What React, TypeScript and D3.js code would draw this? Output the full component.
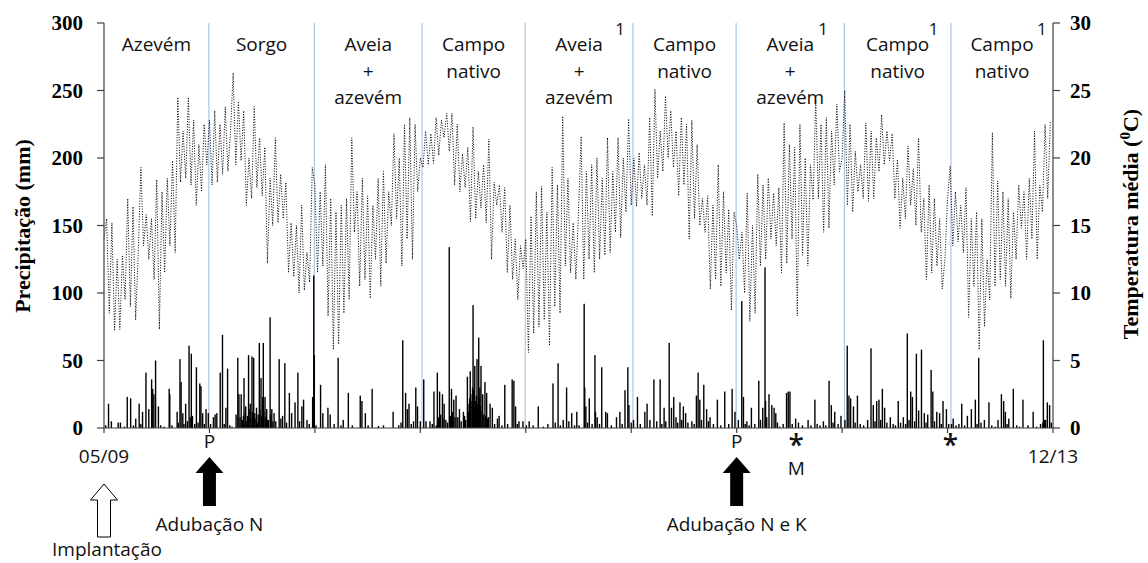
import React from 'react';
import * as d3 from 'd3';

const W = 1148;
const H = 563;

// x axis: day index since 05/2009 (9 half-year spans)
const totalDays = 1674;
const tickDays = [0, 186, 372, 558, 744, 930, 1116, 1302, 1488, 1674];
const tickLabels: Record<number, string> = { 0: '05/09', 1674: '12/13' };

const precTicks = [0, 50, 100, 150, 200, 250, 300];
const tempTicks = [0, 5, 10, 15, 20, 25, 30];

// seasons
const seasonBounds = [0, 185, 371, 561, 743, 933, 1115, 1306, 1494, 1674];
const seasonNames = [
  ['Azevém'],
  ['Sorgo'],
  ['Aveia', '+', 'azevém'],
  ['Campo', 'nativo'],
  ['Aveia', '+', 'azevém'],
  ['Campo', 'nativo'],
  ['Aveia', '+', 'azevém'],
  ['Campo', 'nativo'],
  ['Campo', 'nativo'],
];
const seasonNote = ['', '', '', '', '1', '', '1', '1', '1'];
const noteDx = [0, 0, 0, 0, 41, 0, 33, 36, 40];

// mean temperature (°C), one list per half-year block, evenly spaced in time
const tempSeg1 = [14, 15.5, 8.5, 15.2, 7.2, 12.5, 7.3, 12.8, 9.5, 17, 9, 16.4, 8, 13, 19.3, 13.5, 15.8, 12.5, 15.5, 11, 18.4, 7.3, 17.5, 11.5, 18.5, 13.5, 19.8, 13, 24.5, 18.2, 22, 18.5, 24.5, 18, 22.8, 16.5, 21, 17.5, 22.5, 19.5];
const tempSeg2 = [22.8, 18, 23.5, 18.2, 22.5, 18.8, 23.8, 19, 22, 26.3, 19.5, 24.2, 19.8, 23.5, 16.5, 20, 17, 23.8, 17.8, 21.5, 17.2, 20.8, 12.2, 18.5, 15, 21.5, 15.2, 18.8, 15.5, 18.2, 11.5, 15.2, 11.2, 15, 10, 16.5, 10.2, 13, 10.8, 19.3];
const tempSeg3 = [18, 11.5, 17.5, 12, 19.5, 8.3, 17, 5.8, 16, 6.2, 16.5, 8.5, 17, 9.5, 21.5, 14.5, 17.5, 10.5, 18.5, 11, 17.2, 9.6, 16.5, 12.5, 18.5, 10.5, 19, 12.2, 17.5, 15, 21.8, 15.5, 20, 12, 22.5, 14, 23, 12.5, 22.5, 17.5];
const tempSeg4 = [20, 19.3, 22, 19.5, 21.8, 19.6, 23, 20.2, 22.8, 21.5, 23.3, 20.5, 23.3, 18, 22.5, 17.5, 20.3, 17.8, 20.8, 15.3, 22.3, 15.5, 19, 16.3, 19.5, 15.2, 21.4, 12.5, 18.2, 16.5, 18, 14.5, 17.8, 11.5, 16.5, 11, 14, 9.5, 13.5, 11.8];
const tempSeg5 = [14, 5.6, 15.7, 7, 17.5, 7.5, 17.9, 8, 16, 6.1, 19.3, 9, 18, 8.5, 23.1, 12, 18.5, 11.5, 15.2, 11, 16, 21.6, 11, 19, 12.5, 19.5, 11.5, 20, 12.5, 18.5, 12.8, 21.5, 13, 19, 14.5, 21.5, 14.1, 20, 16, 22.9];
const tempSeg6 = [16.5, 20, 16.4, 20.4, 17, 19.5, 16.5, 23, 15.7, 25.1, 18.5, 22, 19, 24.6, 20, 23.5, 19.3, 22, 17.2, 23, 18, 22.5, 14, 22.8, 15.5, 21, 15, 17, 14.5, 17.2, 10.3, 16.5, 11, 19.5, 10.5, 17.5, 11.5, 16.2, 8.7, 16];
const tempSeg7 = [15, 12.5, 14.5, 10, 17.4, 7.9, 15, 8.5, 18.8, 12, 18, 12.5, 18.5, 14, 17.4, 13.5, 17.8, 11.5, 22.6, 12.2, 21, 14, 20.8, 8.3, 22.5, 12.8, 20, 12, 19.5, 16.9, 24.3, 17, 22.5, 14.5, 23, 14.8, 22, 18, 24, 19];
const tempSeg8 = [20, 25, 16.5, 22.5, 16, 20.5, 17.5, 19.5, 17, 22.6, 16.8, 22, 17, 21.5, 19, 23.2, 19.5, 22, 19.8, 21.8, 17, 19.9, 14.8, 18.5, 15.5, 20.9, 16.5, 19.2, 15, 21.5, 14.5, 17, 11, 18, 11.5, 17, 12, 15.5, 10.3, 12.5];
const tempSeg9 = [17, 19.4, 13.5, 17.5, 13.8, 16.5, 13, 17.8, 8.2, 15.5, 10.5, 16, 5.8, 15.5, 7.5, 12.5, 9.5, 21.9, 10.5, 18.3, 11, 17.5, 10.5, 17, 9.6, 16, 12.5, 18, 14.8, 17.5, 12.5, 18.5, 14, 22, 12.5, 18, 16, 22.5, 17, 22.7];
const tempSegs = [tempSeg1, tempSeg2, tempSeg3, tempSeg4, tempSeg5, tempSeg6, tempSeg7, tempSeg8, tempSeg9];

// daily precipitation events: [day, mm]
const rainSeg1 = [[3, 2], [8, 18], [13, 5], [25, 4], [29, 4], [36, 1], [41, 23], [47, 22], [52, 2], [56, 7], [62, 18], [65, 3], [68, 12], [74, 41], [79, 14], [84, 36], [86, 29], [88, 25], [91, 50], [96, 16], [100, 2], [106, 1], [115, 29], [116, 25], [120, 2], [129, 12], [131, 4], [134, 51], [136, 34], [139, 11], [141, 3], [144, 18], [147, 5], [150, 61], [152, 8], [154, 55], [156, 9], [160, 3], [163, 45], [166, 4], [169, 33], [171, 31], [174, 11], [177, 3], [180, 14], [184, 11]];
const rainSeg2 = [[188, 3], [193, 8], [196, 10], [199, 11], [205, 41], [209, 69], [212, 3], [215, 15], [218, 44], [222, 2], [226, 1], [233, 10], [236, 52], [238, 25], [240, 8], [242, 25], [244, 6], [246, 9], [247, 37], [249, 12], [250, 16], [252, 5], [253, 9], [255, 54], [256, 14], [258, 18], [259, 7], [261, 53], [262, 12], [264, 52], [265, 8], [266, 11], [268, 7], [269, 15], [271, 4], [272, 10], [274, 63], [275, 14], [277, 37], [278, 9], [280, 23], [281, 63], [282, 12], [284, 23], [285, 8], [287, 14], [288, 6], [290, 6], [293, 82], [294, 10], [296, 14], [298, 5], [300, 11], [303, 5], [309, 51], [312, 7], [315, 9], [319, 48], [322, 4], [327, 26], [331, 11], [337, 19], [342, 41], [345, 5], [349, 16], [352, 21], [358, 6], [362, 3], [368, 23], [370, 113], [371, 54], [374, 2]];
const rainSeg3 = [[382, 32], [386, 11], [395, 15], [399, 10], [406, 3], [413, 52], [418, 2], [422, 6], [431, 26], [438, 2], [452, 24], [455, 20], [461, 11], [466, 2], [473, 29], [484, 1.5], [493, 2], [510, 12], [520, 2], [524, 4], [527, 65], [532, 26], [535, 14], [538, 18], [542, 3], [546, 5], [550, 30], [553, 16], [558, 5]];
const rainSeg4 = [[564, 36], [568, 5], [575, 5], [579, 3], [582, 27], [586, 2], [588, 41], [590, 8], [592, 27], [594, 10], [597, 25], [598, 7], [600, 18], [603, 6], [606, 4], [609, 134], [611, 9], [613, 29], [615, 12], [617, 21], [619, 8], [621, 24], [624, 8], [627, 14], [630, 5], [634, 12], [636, 9], [638, 6], [641, 38], [642, 18], [643, 12], [645, 22], [646, 42], [647, 25], [649, 20], [650, 30], [651, 91], [652, 28], [654, 46], [655, 20], [656, 15], [657, 24], [658, 51], [659, 18], [661, 67], [662, 22], [663, 30], [664, 16], [665, 46], [667, 12], [668, 25], [670, 10], [672, 34], [673, 9], [675, 26], [676, 7], [678, 8], [681, 18], [685, 15], [689, 3], [694, 7], [697, 9], [702, 2], [707, 32], [712, 3], [720, 36], [723, 35], [726, 16], [729, 3], [732, 5], [739, 5]];
const rainSeg5 = [[745, 2], [750, 5], [757, 2], [766, 16], [775, 1], [783, 3], [792, 33], [796, 4], [801, 48], [805, 2], [810, 6], [816, 30], [820, 5], [825, 11], [830, 2], [834, 12], [838, 2], [847, 92], [848, 30], [850, 16], [853, 4], [856, 22], [861, 3], [866, 54], [867, 12], [870, 8], [874, 3], [878, 45], [885, 12], [888, 11], [895, 2], [904, 8], [910, 12], [914, 3], [919, 28], [924, 45], [926, 17], [930, 4]];
const rainSeg6 = [[934, 6], [941, 23], [946, 3], [954, 12], [958, 18], [963, 6], [970, 36], [975, 5], [981, 36], [984, 3], [988, 15], [991, 5], [997, 63], [1001, 15], [1005, 23], [1009, 8], [1012, 4], [1016, 19], [1019, 6], [1022, 16], [1026, 11], [1030, 4], [1037, 5], [1041, 3], [1045, 24], [1048, 41], [1051, 21], [1054, 6], [1058, 32], [1063, 14], [1066, 5], [1069, 8], [1075, 3], [1082, 21], [1088, 2], [1095, 27], [1102, 3], [1108, 29], [1113, 12]];
const rainSeg7 = [[1119, 6], [1125, 94], [1128, 23], [1131, 3], [1134, 5], [1138, 2], [1142, 15], [1148, 3], [1155, 35], [1158, 6], [1162, 15], [1166, 119], [1167, 20], [1169, 8], [1173, 25], [1178, 17], [1182, 15], [1185, 11], [1188, 4], [1192, 1], [1198, 3], [1204, 26], [1207, 27], [1210, 27], [1214, 3], [1220, 7], [1225, 4], [1232, 2], [1242, 6], [1247, 2], [1254, 21], [1258, 3], [1263, 2], [1269, 5], [1273, 2], [1279, 35], [1283, 17], [1286, 4], [1289, 12], [1295, 3], [1300, 9]];
const rainSeg8 = [[1307, 6], [1311, 61], [1314, 24], [1317, 22], [1322, 16], [1325, 4], [1329, 24], [1334, 3], [1340, 2], [1347, 6], [1353, 59], [1357, 17], [1360, 5], [1363, 20], [1367, 21], [1370, 6], [1373, 29], [1377, 15], [1381, 4], [1387, 8], [1392, 3], [1396, 2], [1401, 20], [1405, 4], [1410, 8], [1414, 3], [1417, 70], [1420, 6], [1423, 27], [1426, 23], [1430, 5], [1433, 55], [1437, 13], [1442, 58], [1447, 11], [1450, 4], [1453, 10], [1459, 43], [1462, 27], [1465, 5], [1469, 12], [1474, 11], [1477, 3], [1480, 20], [1486, 14], [1490, 3]];
const rainSeg9 = [[1495, 3], [1498, 7], [1503, 2], [1508, 3], [1513, 18], [1518, 2], [1523, 9], [1530, 14], [1537, 21], [1540, 3], [1543, 52], [1547, 4], [1553, 6], [1561, 19], [1566, 2], [1572, 1], [1577, 6], [1583, 25], [1587, 20], [1590, 12], [1593, 3], [1596, 7], [1604, 29], [1610, 2], [1615, 1], [1621, 21], [1630, 2], [1639, 12], [1645, 1], [1652, 3], [1656, 4], [1657, 65], [1659, 6], [1661, 6], [1664, 19], [1668, 17], [1671, 4]];
const rainSegs = [rainSeg1, rainSeg2, rainSeg3, rainSeg4, rainSeg5, rainSeg6, rainSeg7, rainSeg8, rainSeg9];

// annotations below axis
const markP = [186, 1116];
const markStar = [
  { day: 1221, sub: 'M' },
  { day: 1493, sub: '' },
];
const fertilizations = [
  { day: 186, label: 'Adubação N' },
  { day: 1116, label: 'Adubação N e K' },
];
const planting = { day: 0, label: 'Implantação' };

const L = 104, R = 1053, T = 23, B = 428;
const sans = "'Open Sans', 'Noto Sans', sans-serif";
const serif = "'Liberation Serif', 'Times New Roman', serif";

export default function App() {
  const x = d3.scaleLinear().domain([0, totalDays]).range([L, R]);
  const yP = d3.scaleLinear().domain([0, 300]).range([B, T]);
  const yT = d3.scaleLinear().domain([0, 30]).range([B, T]);

  const tempPoints: [number, number][] = [];
  tempSegs.forEach((seg, s) => {
    const d0 = tickDays[s];
    const d1 = tickDays[s + 1];
    seg.forEach((v, k) => {
      tempPoints.push([d0 + (k * (d1 - d0)) / seg.length, v]);
    });
  });
  const line = d3
    .line<[number, number]>()
    .x((d) => x(d[0]))
    .y((d) => yT(d[1]));

  const rain = rainSegs.flat() as number[][];

  const blackArrow = (cx: number) => {
    const top = 457, hb = 473, bot = 506;
    return `M${cx},${top} L${cx + 14},${hb} L${cx + 6.5},${hb} L${cx + 6.5},${bot} L${cx - 6.5},${bot} L${cx - 6.5},${hb} L${cx - 14},${hb} Z`;
  };
  const whiteArrow = (cx: number) => {
    const top = 484, hb = 500, bot = 537;
    return `M${cx},${top} L${cx + 13.5},${hb} L${cx + 6.5},${hb} L${cx + 6.5},${bot} L${cx - 6.5},${bot} L${cx - 6.5},${hb} L${cx - 13.5},${hb} Z`;
  };

  return (
    <svg width={W} height={H} style={{ position: 'absolute', left: 0, top: 0, background: '#fff' }}>
      <rect x={0} y={0} width={W} height={H} fill="#fff" />
      {seasonBounds.slice(1, -1).map((d, i) => (
        <line key={'s' + i} x1={x(d)} x2={x(d)} y1={T} y2={B} stroke="#9dbbe0" strokeWidth={1} />
      ))}
      {seasonNames.map((lines, i) => {
        const cx = (x(seasonBounds[i]) + x(seasonBounds[i + 1])) / 2;
        return (
          <g key={'n' + i} fontFamily={sans} fontSize={19} fill="#111" textAnchor="middle">
            {lines.map((t, j) => (
              <text key={j} x={cx} y={51 + j * 26.5}>{t}</text>
            ))}
            {seasonNote[i] && (
              <text x={cx + noteDx[i]} y={35} fontSize={17}>{seasonNote[i]}</text>
            )}
          </g>
        );
      })}
      {rain.map((d, i) => (
        <rect key={'r' + i} x={x(d[0]) - 0.7} width={1.4} y={yP(d[1])} height={yP(0) - yP(d[1])} fill="#000" />
      ))}
      <path d={line(tempPoints) || ''} fill="none" stroke="#000" strokeWidth={1} strokeDasharray="1 1.6" />
      <g stroke="#404040" strokeWidth={1.2} fill="none">
        <line x1={L} x2={L} y1={T} y2={B} />
        <line x1={R} x2={R} y1={T} y2={B} />
        <line x1={L} x2={R} y1={B} y2={B} />
        {precTicks.map((t) => (
          <line key={'lt' + t} x1={L - 7} x2={L} y1={yP(t)} y2={yP(t)} />
        ))}
        {tempTicks.map((t) => (
          <line key={'rt' + t} x1={R} x2={R + 7} y1={yT(t)} y2={yT(t)} />
        ))}
        {tickDays.map((t) => (
          <line key={'xt' + t} x1={x(t)} x2={x(t)} y1={B} y2={B + 5} />
        ))}
      </g>
      <g fontFamily={serif} fontWeight="bold" fontSize={21} fill="#000">
        {precTicks.map((t) => (
          <text key={'ll' + t} x={L - 21} y={yP(t)} dy="0.34em" textAnchor="end">{t}</text>
        ))}
        {tempTicks.map((t) => (
          <text key={'rl' + t} x={R + 17} y={yT(t)} dy="0.34em" textAnchor="start">{t}</text>
        ))}
        <text transform={`translate(30,226) rotate(-90)`} textAnchor="middle" fontSize={22}>Precipitação (mm)</text>
        <text transform={`translate(1138,224) rotate(-90)`} textAnchor="middle" fontSize={22}>
          Temperatura média (<tspan fontSize={15} dy="-8">0</tspan><tspan dy="8">C)</tspan>
        </text>
      </g>
      <g fontFamily={sans} fontSize={19} fill="#111" textAnchor="middle">
        {tickDays.filter((t) => tickLabels[t]).map((t) => (
          <text key={'xl' + t} x={x(t)} y={463}>{tickLabels[t]}</text>
        ))}
        {markP.map((d) => (
          <text key={'p' + d} x={x(d)} y={448}>P</text>
        ))}
        {markStar.map((s) => (
          <text key={'st' + s.day} x={x(s.day)} y={455}>
            <tspan fontSize={28} fontWeight={600}>*</tspan>
            {s.sub && (
              <tspan x={x(s.day)} dy={20}>{s.sub}</tspan>
            )}
          </text>
        ))}
        {fertilizations.map((f) => (
          <g key={'f' + f.day}>
            <path d={blackArrow(x(f.day))} fill="#000" />
            <text x={x(f.day)} y={531}>{f.label}</text>
          </g>
        ))}
        <path d={whiteArrow(x(planting.day))} fill="#fff" stroke="#000" strokeWidth={1} />
        <text x={x(planting.day) + 3} y={556}>{planting.label}</text>
      </g>
    </svg>
  );
}
